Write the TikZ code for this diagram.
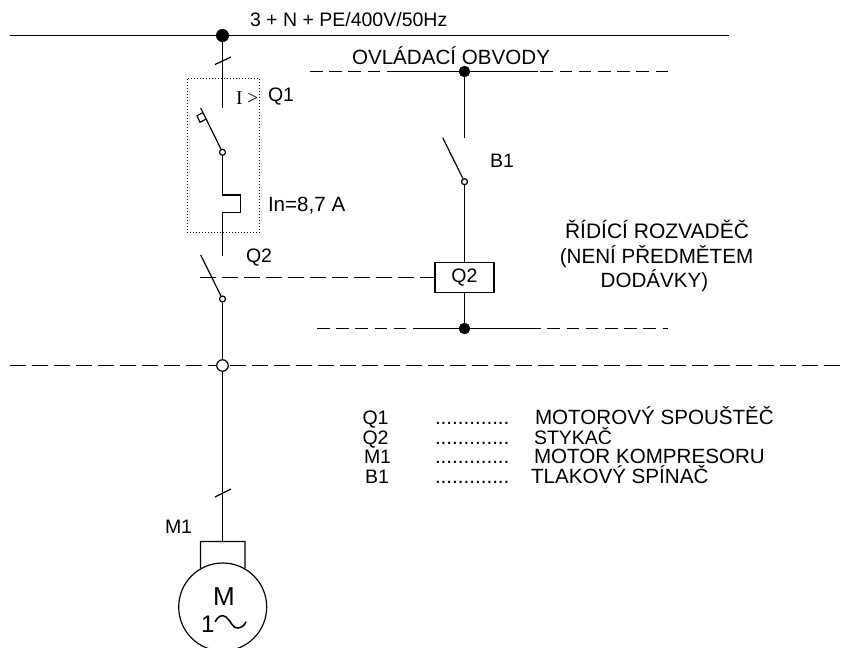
\documentclass[tikz,border=0pt]{standalone}
\usepackage{fontspec}
\setmainfont{Liberation Sans}
\newfontfamily\serifalt{Liberation Serif}
\tikzset{
  x=1pt,y=-1pt,
  wire/.style={line width=1.2pt,black},
  thin wire/.style={line width=1.2pt,black},
  longdash/.style={line width=1.2pt,black,dash pattern=on 16pt off 6pt},
  busdash/.style={line width=1.2pt,black,dash pattern=on 12.6pt off 6.6pt},
  lbl/.style={anchor=base west,inner sep=0pt,outer sep=0pt,font=\fontsize{19.5}{22}\selectfont},
  wide/.style={lbl,font=\fontsize{20.6}{23}\selectfont},
  joint/.style={circle,fill=black,draw=black,inner sep=0pt,minimum size=11pt},
  hollow/.style={circle,fill=white,draw=black,line width=1.2pt,inner sep=0pt,minimum size=6pt},
  bighollow/.style={circle,fill=white,draw=black,line width=1.2pt,inner sep=0pt,minimum size=11.5pt}
}
\begin{document}
\begin{tikzpicture}
\clip (0,0) rectangle (844,648);
\fill[white] (0,0) rectangle (844,648);
% coordinates
\coordinate (busL) at (10,35.5);
\coordinate (busR) at (729,35.5);
\coordinate (lineL) at (10,365.5);
\coordinate (lineR) at (844,365.5);
\coordinate (q1end) at (222.5,108);
\coordinate (q1tip) at (200.7,108);
\coordinate (q2end) at (222.5,256);
\coordinate (q2tip) at (200.7,255);
\coordinate (b1end) at (464.5,138);
\coordinate (b1tip) at (442.7,137.7);
\coordinate (mech) at (200,277.5);
\coordinate (brk1) at (200.5,541.5);
\coordinate (brk2) at (244.9,541.5);
\coordinate (brkm) at (222.5,541.5);
% dashed lines
\draw[longdash] (lineL) -- (lineR);
\draw[busdash] (310,71.5) -- (668,71.5);
\draw[busdash] (317,328.5) -- (668,328.5);
\draw[thin wire] (396,71.5) -- (538,71.5);
\draw[thin wire] (413,328.5) -- (538,328.5);
% main bus
\draw[wire] (busL) -- (busR);
% nodes
\node[joint,minimum size=12.5pt] (jbus) at (222.5,35.5) {};
\node[joint] (jtop) at (464.5,71.5) {};
\node[joint] (jbot) at (464.5,328.5) {};
\node[hollow] (cq1) at (222.5,152.3) {};
\node[hollow] (cq2) at (222.5,299) {};
\node[hollow] (cb1) at (464.5,181.7) {};
\node[bighollow] (jline) at (222.5,365.5) {};
\node[draw=black,line width=1.2pt,minimum width=59pt,minimum height=30pt,inner sep=0pt,font=\fontsize{19.5}{22}\selectfont] (boxq2) at (464.5,277.5) {Q2};
\node[circle,draw=black,line width=1.2pt,minimum size=88pt,inner sep=0pt] (motor) at (222.7,607) {};
% dotted frame
\node[draw=black,dotted,line width=1pt,minimum width=72.5pt,minimum height=154pt,inner sep=0pt] (frame) at (223.7,155) {};
% wiring
\draw[wire] (jbus) -- (q1end);
\draw[wire] (q1tip) -- (cq1);
\draw[wire] (cq1) -- (222.5,195) -- (240.5,195) -- (240.5,212.5) -- (222.5,212.5) -- (q2end);
\draw[wire] (q2tip) -- (cq2);
\draw[wire] (cq2) -- (jline);
\draw[wire] (jline) -- (brkm);
\draw[wire] (jtop) -- (b1end);
\draw[wire] (b1tip) -- (cb1);
\draw[wire] (cb1) -- (boxq2);
\draw[wire] (boxq2) -- (jbot);
\draw[longdash] (mech) -- (boxq2.west);
% slashes
\draw[wire] (215,64.5) -- (231,57);
\draw[wire] (215,497) -- (231,489);
% handle
\draw[wire] (202.7,112.7) -- (197,115.7) -- (200,122.3) -- (205.7,119.3);
% motor terminals
\draw[wire] (motor.120) -- (brk1) -- (brk2) -- (motor.60);
% motor text
\node[lbl,font=\fontsize{26}{28}\selectfont,anchor=base] (mm) at (224,605) {M};
\node[lbl,font=\fontsize{24}{26}\selectfont] (mone) at (201,632) {1};
\draw[line width=1.5pt] (215,622) .. controls (218,616) and (222,614) .. (226,617) .. controls (231,621) and (233,629) .. (238,628) .. controls (242,627.5) and (245,625) .. (246,621.7);
% labels
\node[lbl] (t1) at (250,26) {3 + N + PE/400V/50Hz};
\node[wide] (t2) at (352,64) {OVLÁDACÍ OBVODY};
\node[lbl,font=\serifalt\fontsize{19.5}{21}\selectfont] (t3) at (236,104) {I >};
\node[lbl] (t4) at (268,101) {Q1};
\node[wide] (t5) at (268,211.5) {In=8,7 A};
\node[lbl] (t6) at (246,262) {Q2};
\node[lbl] (t7) at (490,167) {B1};
\node[lbl] (t8) at (165,533) {M1};
\node[wide,anchor=base,font=\fontsize{21}{23}\selectfont] (r1) at (657,238) {ŘÍDÍCÍ ROZVADĚČ};
\node[wide,anchor=base] (r2) at (656.5,263) {(NENÍ PŘEDMĚTEM};
\node[wide,anchor=base] (r3) at (654.5,287) {DODÁVKY)};
% legend
\node[lbl] (l1a) at (362.5,424) {Q1};
\node[wide] (l1b) at (435,424) {.............};
\node[wide] (l1c) at (535,424) {MOTOROVÝ SPOUŠTĚČ};
\node[lbl] (l2a) at (362.5,444) {Q2};
\node[wide] (l2b) at (435,444) {.............};
\node[lbl] (l2c) at (534,444) {STYKAČ};
\node[lbl] (l3a) at (364,463.5) {M1};
\node[wide] (l3b) at (435,463.5) {.............};
\node[wide] (l3c) at (534,463.5) {MOTOR KOMPRESORU};
\node[lbl] (l4a) at (365,483) {B1};
\node[wide] (l4b) at (435,483) {.............};
\node[wide] (l4c) at (531,483) {TLAKOVÝ SPÍNAČ};
\end{tikzpicture}
\end{document}
